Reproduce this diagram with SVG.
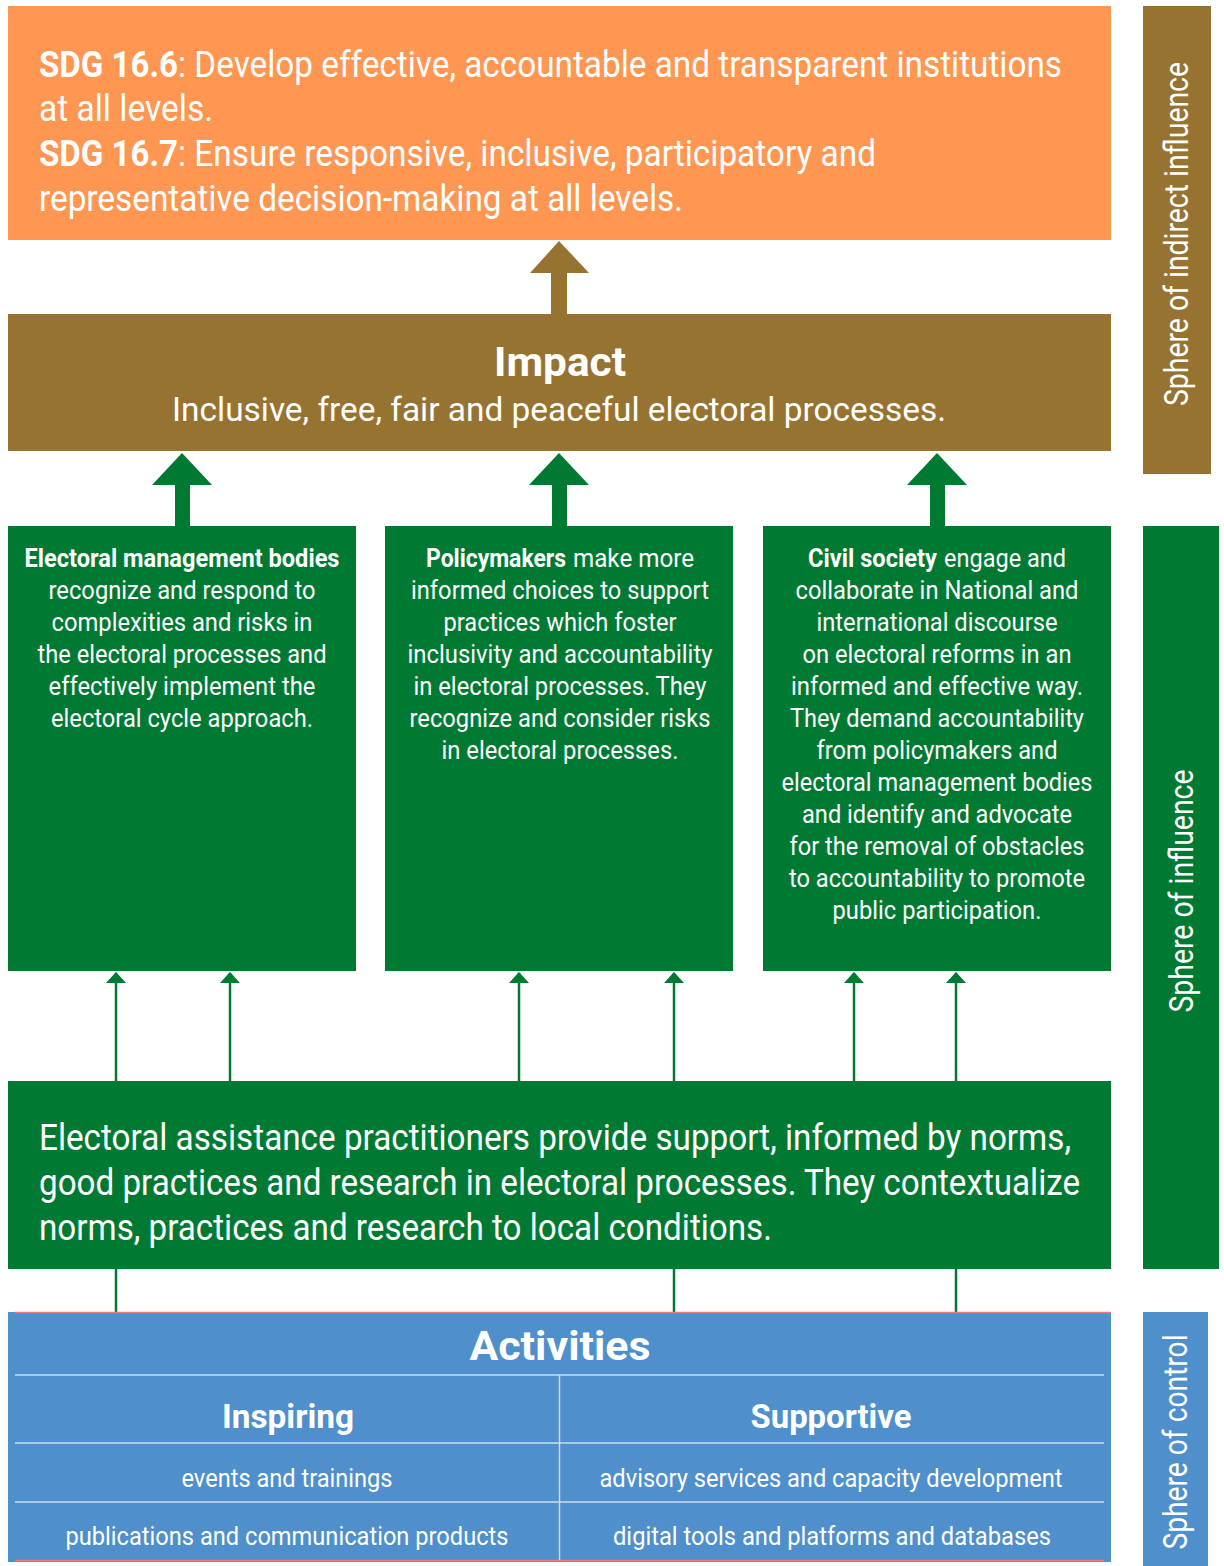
<svg xmlns="http://www.w3.org/2000/svg" width="1224" height="1566" viewBox="0 0 1224 1566">
<defs>
<style>
text{font-family:Roboto,"Liberation Sans",sans-serif;fill:#fff}
.b{font-weight:bold}
.c{text-anchor:middle}
.sdg{font-size:36px}
.g{font-size:26px}
.big{font-size:36px}
.side{font-size:33px}
.act{font-size:26px}
.sep{stroke:#c9dbf0;stroke-width:1.5}
</style>
</defs>
<rect width="1224" height="1566" fill="#fff"/>

<g id="connectors">
<path d="M559 241 L589 273 L567 273 L567 314 L551 314 L551 273 L530 273 Z" fill="#977331"/>
<path d="M182 453 L212 485 L190 485 L190 526 L175 526 L175 485 L152 485 Z" fill="#007A33"/>
<path d="M559 453 L589 485 L567 485 L567 526 L552 526 L552 485 L529 485 Z" fill="#007A33"/>
<path d="M937 453 L967 485 L945 485 L945 526 L930 526 L930 485 L907 485 Z" fill="#007A33"/>
<g stroke="#007A33" stroke-width="2.5" fill="none">
<line x1="116" y1="1081" x2="116" y2="973"/>
<line x1="230" y1="1081" x2="230" y2="973"/>
<line x1="519" y1="1081" x2="519" y2="973"/>
<line x1="674" y1="1081" x2="674" y2="973"/>
<line x1="854" y1="1081" x2="854" y2="973"/>
<line x1="956" y1="1081" x2="956" y2="973"/>
<line x1="116" y1="1269" x2="116" y2="1312"/>
<line x1="674" y1="1269" x2="674" y2="1312"/>
<line x1="956" y1="1269" x2="956" y2="1312"/>
</g>
<g fill="#007A33">
<path d="M116 972 L126 983 L106 983 Z"/>
<path d="M230 972 L240 983 L220 983 Z"/>
<path d="M519 972 L529 983 L509 983 Z"/>
<path d="M674 972 L684 983 L664 983 Z"/>
<path d="M854 972 L864 983 L844 983 Z"/>
<path d="M956 972 L966 983 L946 983 Z"/>
</g>
</g>

<g id="sdg">
<rect x="8" y="6" width="1103" height="234" fill="#FF9652"/>
<text class="sdg b" x="39" y="77" textLength="139" lengthAdjust="spacingAndGlyphs">SDG 16.6</text>
<text class="sdg" x="178" y="77" textLength="884" lengthAdjust="spacingAndGlyphs">: Develop effective, accountable and transparent institutions</text>
<text class="sdg" x="39" y="121" textLength="174" lengthAdjust="spacingAndGlyphs">at all levels.</text>
<text class="sdg b" x="39" y="166" textLength="139" lengthAdjust="spacingAndGlyphs">SDG 16.7</text>
<text class="sdg" x="178" y="166" textLength="698" lengthAdjust="spacingAndGlyphs">: Ensure responsive, inclusive, participatory and</text>
<text class="sdg" x="39" y="211" textLength="644" lengthAdjust="spacingAndGlyphs">representative decision-making at all levels.</text>
</g>

<g id="impact">
<rect x="8" y="314" width="1103" height="137" fill="#977331"/>
<text class="b c" x="560" y="376" font-size="40" textLength="132" lengthAdjust="spacingAndGlyphs">Impact</text>
<text class="c" x="559" y="421" font-size="34" textLength="774" lengthAdjust="spacingAndGlyphs">Inclusive, free, fair and peaceful electoral processes.</text>
</g>

<g id="emb">
<rect x="8" y="526" width="348" height="445" fill="#007A33"/>
<text class="g b c" x="182" y="567" textLength="315" lengthAdjust="spacingAndGlyphs">Electoral management bodies</text>
<text class="g c" x="182" y="599" textLength="267" lengthAdjust="spacingAndGlyphs">recognize and respond to</text>
<text class="g c" x="182" y="631" textLength="261" lengthAdjust="spacingAndGlyphs">complexities and risks in</text>
<text class="g c" x="182" y="663" textLength="289" lengthAdjust="spacingAndGlyphs">the electoral processes and</text>
<text class="g c" x="182" y="695" textLength="267" lengthAdjust="spacingAndGlyphs">effectively implement the</text>
<text class="g c" x="182" y="727" textLength="262" lengthAdjust="spacingAndGlyphs">electoral cycle approach.</text>
</g>

<g id="policymakers">
<rect x="385" y="526" width="348" height="445" fill="#007A33"/>
<text class="g b" x="426" y="567" textLength="140" lengthAdjust="spacingAndGlyphs">Policymakers</text>
<text class="g" x="573" y="567" textLength="121" lengthAdjust="spacingAndGlyphs">make more</text>
<text class="g c" x="560" y="599" textLength="298" lengthAdjust="spacingAndGlyphs">informed choices to support</text>
<text class="g c" x="560" y="631" textLength="233" lengthAdjust="spacingAndGlyphs">practices which foster</text>
<text class="g c" x="560" y="663" textLength="305" lengthAdjust="spacingAndGlyphs">inclusivity and accountability</text>
<text class="g c" x="560" y="695" textLength="293" lengthAdjust="spacingAndGlyphs">in electoral processes. They</text>
<text class="g c" x="560" y="727" textLength="301" lengthAdjust="spacingAndGlyphs">recognize and consider risks</text>
<text class="g c" x="560" y="759" textLength="237" lengthAdjust="spacingAndGlyphs">in electoral processes.</text>
</g>

<g id="civil-society">
<rect x="763" y="526" width="348" height="445" fill="#007A33"/>
<text class="g b" x="808" y="567" textLength="129" lengthAdjust="spacingAndGlyphs">Civil society</text>
<text class="g" x="944" y="567" textLength="122" lengthAdjust="spacingAndGlyphs">engage and</text>
<text class="g c" x="937" y="599" textLength="283" lengthAdjust="spacingAndGlyphs">collaborate in National and</text>
<text class="g c" x="937" y="631" textLength="241" lengthAdjust="spacingAndGlyphs">international discourse</text>
<text class="g c" x="937" y="663" textLength="269" lengthAdjust="spacingAndGlyphs">on electoral reforms in an</text>
<text class="g c" x="937" y="695" textLength="292" lengthAdjust="spacingAndGlyphs">informed and effective way.</text>
<text class="g c" x="937" y="727" textLength="294" lengthAdjust="spacingAndGlyphs">They demand accountability</text>
<text class="g c" x="937" y="759" textLength="241" lengthAdjust="spacingAndGlyphs">from policymakers and</text>
<text class="g c" x="937" y="791" textLength="311" lengthAdjust="spacingAndGlyphs">electoral management bodies</text>
<text class="g c" x="937" y="823" textLength="270" lengthAdjust="spacingAndGlyphs">and identify and advocate</text>
<text class="g c" x="937" y="855" textLength="295" lengthAdjust="spacingAndGlyphs">for the removal of obstacles</text>
<text class="g c" x="937" y="887" textLength="296" lengthAdjust="spacingAndGlyphs">to accountability to promote</text>
<text class="g c" x="937" y="919" textLength="209" lengthAdjust="spacingAndGlyphs">public participation.</text>
</g>

<g id="practitioners">
<rect x="8" y="1081" width="1103" height="188" fill="#007A33"/>
<text class="big" x="39" y="1150" textLength="1032" lengthAdjust="spacingAndGlyphs">Electoral assistance practitioners provide support, informed by norms,</text>
<text class="big" x="39" y="1195" textLength="1041" lengthAdjust="spacingAndGlyphs">good practices and research in electoral processes. They contextualize</text>
<text class="big" x="39" y="1240" textLength="733" lengthAdjust="spacingAndGlyphs">norms, practices and research to local conditions.</text>
</g>

<g id="activities">
<rect x="8" y="1312" width="1103" height="250" fill="#4F8FCC"/>
<line x1="15" y1="1312.5" x2="1111" y2="1312.5" stroke="#E77C7C" stroke-width="1.5"/>
<line x1="15" y1="1560.5" x2="1104" y2="1560.5" stroke="#E77C7C" stroke-width="1.5"/>
<line class="sep" x1="15" y1="1375" x2="1104" y2="1375"/>
<line class="sep" x1="15" y1="1443" x2="1104" y2="1443"/>
<line class="sep" x1="15" y1="1502" x2="1104" y2="1502"/>
<line class="sep" x1="559.5" y1="1375" x2="559.5" y2="1560"/>
<text class="b c" x="560" y="1360" font-size="40" textLength="181" lengthAdjust="spacingAndGlyphs">Activities</text>
<text class="b c" x="288" y="1428" font-size="34" textLength="132" lengthAdjust="spacingAndGlyphs">Inspiring</text>
<text class="b c" x="831" y="1428" font-size="34" textLength="161" lengthAdjust="spacingAndGlyphs">Supportive</text>
<text class="act c" x="287" y="1487" textLength="211" lengthAdjust="spacingAndGlyphs">events and trainings</text>
<text class="act c" x="831" y="1487" textLength="463" lengthAdjust="spacingAndGlyphs">advisory services and capacity development</text>
<text class="act c" x="287" y="1545" textLength="443" lengthAdjust="spacingAndGlyphs">publications and communication products</text>
<text class="act c" x="832" y="1545" textLength="438" lengthAdjust="spacingAndGlyphs">digital tools and platforms and databases</text>
</g>

<g id="sphere-indirect">
<rect x="1143" y="6" width="68" height="468" fill="#977331"/>
<text class="side c" transform="translate(1188 234) rotate(-90)" textLength="344" lengthAdjust="spacingAndGlyphs">Sphere of indirect influence</text>
</g>
<g id="sphere-influence">
<rect x="1143" y="526" width="76" height="743" fill="#007A33"/>
<text class="side c" transform="translate(1193 891) rotate(-90)" textLength="243" lengthAdjust="spacingAndGlyphs">Sphere of influence</text>
</g>
<g id="sphere-control">
<rect x="1143" y="1312" width="65" height="254" fill="#4F8FCC"/>
<text class="side c" transform="translate(1187 1442) rotate(-90)" textLength="215" lengthAdjust="spacingAndGlyphs">Sphere of control</text>
</g>
</svg>
